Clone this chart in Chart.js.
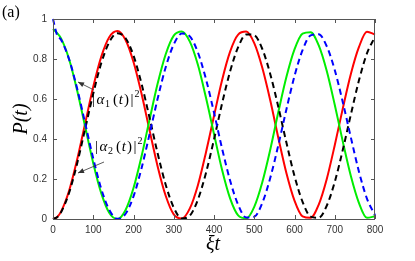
<!DOCTYPE html>
<html>
<head>
<meta charset="utf-8">
<script src="https://cdn.jsdelivr.net/npm/chart.js@4"></script>
<style>
  html, body { margin: 0; padding: 0; background: #fff; }
  #wrap { width: 415px; height: 261px; }
</style>
</head>
<body>
<div id="wrap"><canvas id="c" width="415" height="261"></canvas></div>
<script>
// time axis (xi t) and the four populations
const tVals = [0, 10, 20, 40, 60, 80, 100, 120, 140, 160, 180, 200, 220, 240, 260, 280, 300,
  320, 340, 360, 380, 400, 420, 440, 460, 480, 500, 520, 540, 560, 580, 600, 620, 640, 660,
  680, 700, 720, 740, 760, 780, 800];

const alpha2Exact = [0, 0.009, 0.037, 0.141, 0.297, 0.479, 0.661, 0.812, 0.910, 0.940, 0.896,
  0.785, 0.626, 0.442, 0.263, 0.116, 0.023, 0.002, 0.053, 0.169, 0.333, 0.515, 0.694, 0.837,
  0.922, 0.937, 0.879, 0.756, 0.591, 0.404, 0.229, 0.092, 0.013, 0.006, 0.071, 0.199, 0.369,
  0.553, 0.725, 0.859, 0.936, 0.922];

const alpha1Exact = [0.95, 0.93, 0.903, 0.799, 0.643, 0.461, 0.279, 0.128, 0.030, 0.000, 0.044,
  0.155, 0.314, 0.498, 0.677, 0.824, 0.917, 0.938, 0.887, 0.771, 0.607, 0.425, 0.246, 0.103,
  0.018, 0.003, 0.061, 0.184, 0.349, 0.536, 0.711, 0.848, 0.927, 0.934, 0.869, 0.741, 0.571,
  0.387, 0.215, 0.081, 0.006, 0.014];

const alpha2Approx = [0, 0.009, 0.034, 0.131, 0.278, 0.452, 0.627, 0.780, 0.885, 0.929, 0.905,
  0.817, 0.676, 0.505, 0.328, 0.171, 0.057, 0.003, 0.017, 0.097, 0.230, 0.398, 0.577, 0.738,
  0.859, 0.923, 0.919, 0.850, 0.723, 0.559, 0.381, 0.215, 0.086, 0.012, 0.006, 0.066, 0.185,
  0.346, 0.522, 0.692, 0.828, 0.911];

const alpha1Approx = [1.0, 0.921, 0.896, 0.799, 0.652, 0.478, 0.303, 0.150, 0.045, 0.001, 0.025,
  0.113, 0.254, 0.425, 0.602, 0.759, 0.873, 0.927, 0.913, 0.833, 0.700, 0.532, 0.353, 0.192,
  0.071, 0.007, 0.011, 0.080, 0.207, 0.371, 0.549, 0.715, 0.844, 0.918, 0.924, 0.864, 0.745,
  0.584, 0.408, 0.238, 0.102, 0.019];

const xTicks = [0, 100, 200, 300, 400, 500, 600, 700, 800];
const yTicks = [0, 0.2, 0.4, 0.6, 0.8, 1];

function pts(vals) {
  return tVals.map((t, i) => ({ x: t, y: vals[i] }));
}

const AXIS = '#555';
const TICKTXT = '#333';

// frame, inward ticks, titles, annotations
const decor = {
  id: 'decor',
  afterDraw(chart) {
    const ctx = chart.ctx;
    const a = chart.chartArea;
    const xs = chart.scales.x, ys = chart.scales.y;
    ctx.save();
    ctx.strokeStyle = AXIS;
    ctx.lineWidth = 1;
    ctx.strokeRect(a.left + 0.5, a.top + 0.5, a.right - a.left - 1, a.bottom - a.top);
    ctx.beginPath();
    xTicks.forEach(v => {
      const px = Math.round(xs.getPixelForValue(v)) + 0.5;
      ctx.moveTo(px, a.bottom); ctx.lineTo(px, a.bottom - 4);
      ctx.moveTo(px, a.top); ctx.lineTo(px, a.top + 4);
    });
    yTicks.forEach(v => {
      const py = Math.round(ys.getPixelForValue(v)) + 0.5;
      ctx.moveTo(a.left, py); ctx.lineTo(a.left + 4, py);
      ctx.moveTo(a.right, py); ctx.lineTo(a.right - 4, py);
    });
    ctx.stroke();

    // panel label
    ctx.fillStyle = '#000';
    ctx.font = '16px "Liberation Serif"';
    ctx.textBaseline = 'alphabetic';
    ctx.textAlign = 'left';
    ctx.fillText('(a)', 2, 17);

    // axis titles
    ctx.font = 'italic 20px "Liberation Serif"';
    ctx.textAlign = 'center';
    ctx.fillText('\u03BEt', 213, 250);
    ctx.save();
    ctx.translate(27, 119);
    ctx.rotate(-Math.PI / 2);
    ctx.font = 'italic 20px "Liberation Serif"';
    ctx.fillText('P(t)', 0, 0);
    ctx.restore();

    // annotations
    arrow(ctx, 94, 90, 78, 82);
    arrow(ctx, 104, 162, 78, 173);
    mathLabel(ctx, 92, 104, '1');
    mathLabel(ctx, 95, 151, '2');
    ctx.restore();
  }
};

function arrow(ctx, x0, y0, x1, y1) {
  ctx.save();
  ctx.strokeStyle = '#333';
  ctx.fillStyle = '#333';
  ctx.lineWidth = 0.8;
  ctx.beginPath();
  ctx.moveTo(x0, y0); ctx.lineTo(x1, y1);
  ctx.stroke();
  const ang = Math.atan2(y1 - y0, x1 - x0);
  const L = 6, W = 2.5;
  ctx.beginPath();
  ctx.moveTo(x1, y1);
  ctx.lineTo(x1 - L * Math.cos(ang) + W * Math.sin(ang), y1 - L * Math.sin(ang) - W * Math.cos(ang));
  ctx.lineTo(x1 - L * Math.cos(ang) - W * Math.sin(ang), y1 - L * Math.sin(ang) + W * Math.cos(ang));
  ctx.closePath();
  ctx.fill();
  ctx.restore();
}

function mathLabel(ctx, x, y, n) {
  ctx.save();
  ctx.fillStyle = '#000';
  ctx.textAlign = 'left';
  ctx.textBaseline = 'alphabetic';
  const R = '15px "Liberation Serif"', I = 'italic 15px "Liberation Serif"', S = '10px "Liberation Serif"';
  const parts = [
    [R, '|', 0, 1.5], [I, '\u03B1', 0, 0.5], [S, n, 3, 3], [R, '(', 0, 1], [I, 't', 0, 1],
    [R, ')', 0, 1.5], [R, '|', 0, 1], [S, '2', -7, 0]
  ];
  let cx = x;
  parts.forEach(([f, s, dy, gap]) => {
    ctx.font = f;
    ctx.fillText(s, cx, y + dy);
    cx += ctx.measureText(s).width + gap;
  });
  ctx.restore();
}

const common = { pointRadius: 0, borderWidth: 2, cubicInterpolationMode: 'monotone', fill: false, clip: 3 };

new Chart(document.getElementById('c'), {
  type: 'line',
  data: {
    datasets: [
      Object.assign({ label: 'alpha1 approx', data: pts(alpha1Approx), borderColor: '#0000ff', borderDash: [6, 4], order: 0 }, common),
      Object.assign({ label: 'alpha2 approx', data: pts(alpha2Approx), borderColor: '#000000', borderDash: [6, 4], order: 1 }, common),
      Object.assign({ label: 'alpha1 exact', data: pts(alpha1Exact), borderColor: '#00ee00', order: 2 }, common),
      Object.assign({ label: 'alpha2 exact', data: pts(alpha2Exact), borderColor: '#ff0000', order: 3 }, common)
    ]
  },
  options: {
    responsive: false,
    animation: false,
    layout: { padding: { left: 0, right: 40, top: 19, bottom: 0 } },
    plugins: { legend: { display: false }, tooltip: { enabled: false } },
    scales: {
      x: {
        type: 'linear', min: 0, max: 800,
        afterFit: s => { s.height = 42; },
        afterBuildTicks: s => { s.ticks = xTicks.map(v => ({ value: v })); },
        grid: { display: false, drawTicks: false },
        border: { display: false },
        ticks: { color: TICKTXT, font: { family: 'Liberation Sans', size: 10 }, padding: 5, maxRotation: 0,
          callback: v => String(v) }
      },
      y: {
        type: 'linear', min: 0, max: 1,
        afterFit: s => { s.width = 53; },
        afterBuildTicks: s => { s.ticks = yTicks.map(v => ({ value: v })); },
        grid: { display: false, drawTicks: false },
        border: { display: false },
        ticks: { color: TICKTXT, font: { family: 'Liberation Sans', size: 10 }, padding: 6,
          callback: v => String(+v.toFixed(1)) }
      }
    }
  },
  plugins: [decor]
});
</script>
</body>
</html>
